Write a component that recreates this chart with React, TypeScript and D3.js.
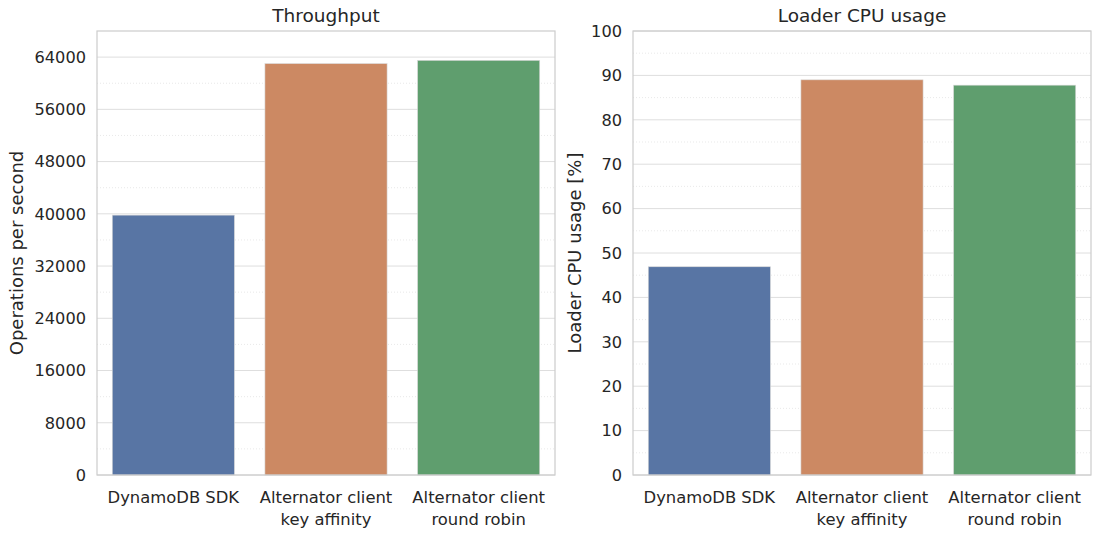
import React from "react";
import * as d3 from "d3";

const categories = ["DynamoDB SDK", "Alternator client\nkey affinity", "Alternator client\nround robin"];
const throughput = [39800, 63000, 63500];
const cpuUsage = [46.9, 89.0, 87.8];
const barColors = ["#5875a4", "#cc8963", "#5f9e6e"];
const throughputTicks = [0, 8000, 16000, 24000, 32000, 40000, 48000, 56000, 64000];
const throughputMinor = [4000, 12000, 20000, 28000, 36000, 44000, 52000, 60000];
const cpuTicks = [0, 10, 20, 30, 40, 50, 60, 70, 80, 90, 100];
const cpuMinor = [5, 15, 25, 35, 45, 55, 65, 75, 85, 95];

const W = 1100;
const H = 539;
const TOP = 31;
const BOTTOM = 475;
const FONT = "'DejaVu Sans', sans-serif";
const TEXT = "#262626";

type PanelProps = {
  left: number;
  right: number;
  values: number[];
  domainMax: number;
  ticks: number[];
  minor: number[];
  title: string;
  ylabel: string;
  ylabelX: number;
};

function Panel({ left, right, values, domainMax, ticks, minor, title, ylabel, ylabelX }: PanelProps) {
  const x = d3.scaleBand<string>().domain(categories).range([left, right]).paddingInner(0.2).paddingOuter(0.1);
  const y = d3.scaleLinear().domain([0, domainMax]).range([BOTTOM, TOP]);
  const midY = (TOP + BOTTOM) / 2;
  return (
    <g>
      {minor.map((t) => (
        <line key={"m" + t} x1={left} x2={right} y1={y(t)} y2={y(t)} stroke="#e6e6e6" strokeWidth={0.9} strokeDasharray="1,2" />
      ))}
      {ticks.map((t) => (
        <line key={"g" + t} x1={left} x2={right} y1={y(t)} y2={y(t)} stroke="#dedede" strokeWidth={1} />
      ))}
      {categories.map((c, i) => (
        <rect
          key={c}
          x={x(c)}
          y={y(values[i])}
          width={x.bandwidth()}
          height={BOTTOM - y(values[i])}
          fill={barColors[i]}
          stroke="#d8d8d8"
          strokeWidth={0.6}
        />
      ))}
      <rect x={left} y={TOP} width={right - left} height={BOTTOM - TOP} fill="none" stroke="#cccccc" strokeWidth={1.2} />
      {ticks.map((t) => (
        <text key={"t" + t} x={left - 11} y={y(t)} dy="0.36em" textAnchor="end" fontSize={16.2} fill={TEXT} fontFamily={FONT}>
          {t}
        </text>
      ))}
      {categories.map((c) => {
        const lines = c.split("\n");
        const cx = (x(c) as number) + x.bandwidth() / 2;
        return (
          <text key={"x" + c} x={cx} y={503} textAnchor="middle" fontSize={16.4} fill={TEXT} fontFamily={FONT}>
            {lines.map((l, j) => (
              <tspan key={j} x={cx} dy={j === 0 ? 0 : 21.5}>
                {l}
              </tspan>
            ))}
          </text>
        );
      })}
      <text x={(left + right) / 2} y={21.5} textAnchor="middle" fontSize={18.5} fill={TEXT} fontFamily={FONT}>
        {title}
      </text>
      <text
        transform={`translate(${ylabelX},${midY}) rotate(-90)`}
        textAnchor="middle"
        fontSize={18}
        fill={TEXT}
        fontFamily={FONT}
      >
        {ylabel}
      </text>
    </g>
  );
}

export default function App() {
  return (
    <div style={{ position: "fixed", left: 0, top: 0, width: W, height: H, background: "#fff" }}>
      <svg width={W} height={H} style={{ display: "block" }}>
        <rect width={W} height={H} fill="#fff" />
        <Panel
          left={97}
          right={555}
          values={throughput}
          domainMax={68000}
          ticks={throughputTicks}
          minor={throughputMinor}
          title="Throughput"
          ylabel="Operations per second"
          ylabelX={23}
        />
        <Panel
          left={633}
          right={1091}
          values={cpuUsage}
          domainMax={100}
          ticks={cpuTicks}
          minor={cpuMinor}
          title="Loader CPU usage"
          ylabel="Loader CPU usage [%]"
          ylabelX={581}
        />
      </svg>
    </div>
  );
}
